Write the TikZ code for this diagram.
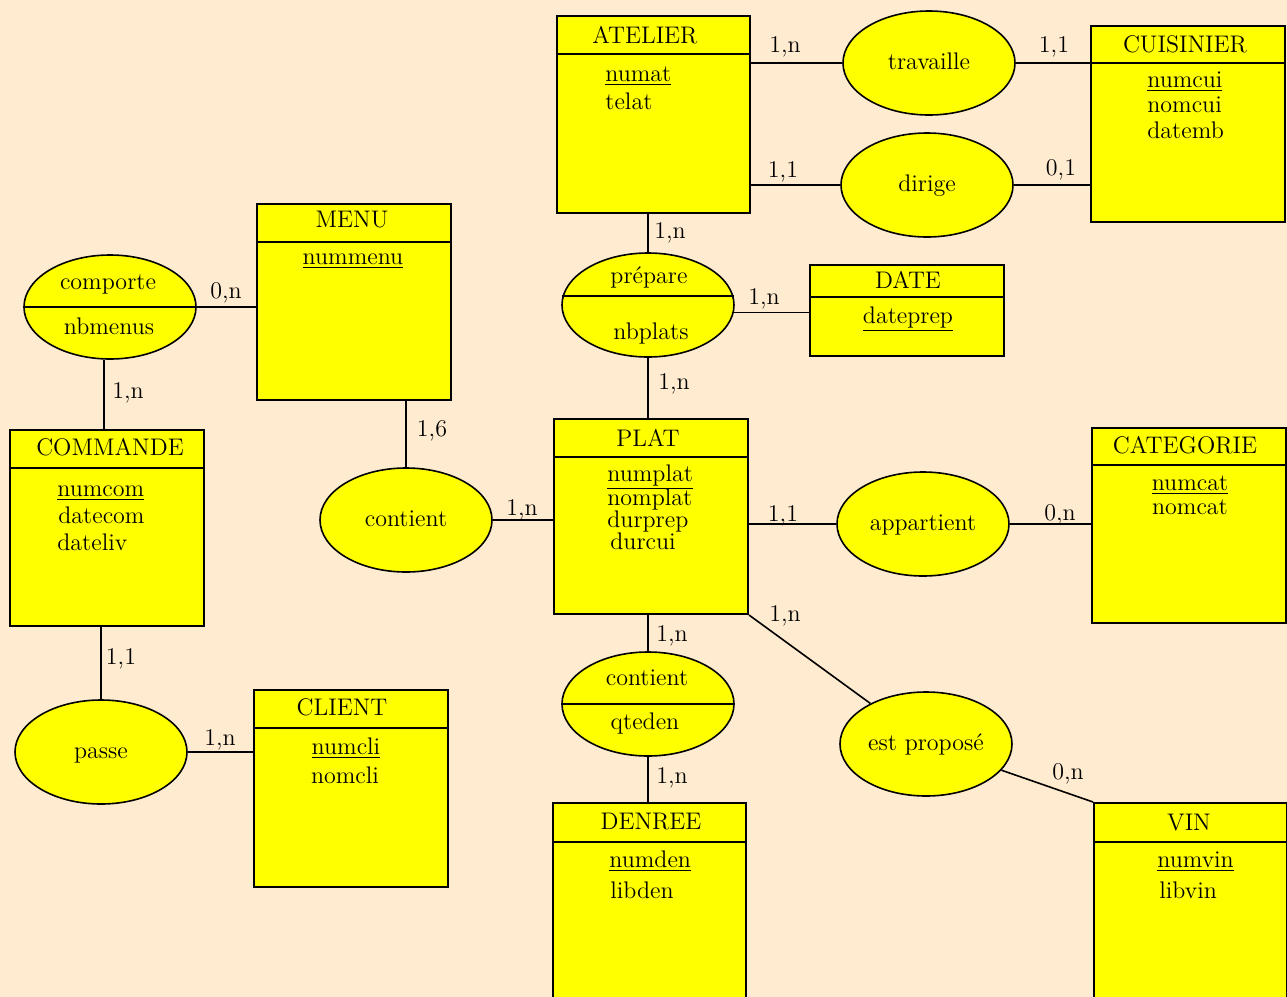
\documentclass[tikz,border=0pt]{standalone}
\usepackage{tikz}
\usepackage{xcolor}
\usetikzlibrary{shapes.geometric}

\definecolor{fond}{RGB}{255,235,208}
\definecolor{jaune}{RGB}{255,255,0}

\begin{document}
\begin{tikzpicture}[x=0.5pt,y=-0.5pt,
  font=\fontsize{12}{14}\selectfont,
  entite/.style={draw, fill=jaune, line width=1pt, anchor=north west, inner sep=0pt, minimum width=97pt, minimum height=98pt},
  entete/.style={line width=1pt},
  relation/.style={ellipse, draw, fill=jaune, line width=0.8pt, inner sep=0pt, minimum width=86pt, minimum height=52pt, text height=8.2pt, text depth=2.2pt},
  texte/.style={inner sep=0pt, text height=8.2pt, text depth=2.2pt},
  attr/.style={texte, anchor=west},
  lien/.style={line width=0.8pt}]

\useasboundingbox (0,0) rectangle (1287,997);
\fill[fond] (0,0) rectangle (1287,997);

% entites
\node[entite, minimum width=96.5pt, minimum height=98.5pt] (atelier) at (556,15) {};
\draw[entete] ([yshift=-19.5pt]atelier.north west) -- ([yshift=-19.5pt]atelier.north east);
\node[texte] (t-atelier) at (645,37) {ATELIER};
\node[attr] (numat) at (605,75) {\underline{numat}};
\node[attr] (telat) at (605,103) {telat};

\node[entite] (cuisinier) at (1090,25) {};
\draw[entete] ([yshift=-19pt]cuisinier.north west) -- ([yshift=-19pt]cuisinier.north east);
\node[texte] (t-cuisinier) at (1185,46) {CUISINIER};
\node[attr] (numcui) at (1147,81) {\underline{numcui}};
\node[attr] (nomcui) at (1147,106) {nomcui};
\node[attr] (datemb) at (1147,132) {datemb};

\node[entite] (menu) at (256,203) {};
\draw[entete] ([yshift=-19.5pt]menu.north west) -- ([yshift=-19.5pt]menu.north east);
\node[texte] (t-menu) at (352,221) {MENU};
\node[texte] (nummenu) at (353,258) {\underline{nummenu}};

\node[entite, minimum height=45.5pt] (date) at (809,264) {};
\draw[entete] ([yshift=-16.5pt]date.north west) -- ([yshift=-16.5pt]date.north east);
\node[texte] (t-date) at (908,282) {DATE};
\node[texte] (dateprep) at (908,317) {\underline{dateprep}};

\node[entite] (commande) at (9,429) {};
\draw[entete] ([yshift=-19.5pt]commande.north west) -- ([yshift=-19.5pt]commande.north east);
\node[texte] (t-commande) at (110,449) {COMMANDE};
\node[attr] (numcom) at (57,490) {\underline{numcom}};
\node[attr] (datecom) at (58,517) {datecom};
\node[attr] (dateliv) at (57,544) {dateliv};

\node[entite, minimum height=97.5pt] (plat) at (553,418) {};
\draw[entete] ([yshift=-19.5pt]plat.north west) -- ([yshift=-19.5pt]plat.north east);
\node[texte] (t-plat) at (648,440) {PLAT};
\node[attr] (numplat) at (607,475) {\underline{numplat}};
\node[attr] (nomplat) at (607,499) {nomplat};
\node[attr] (durprep) at (607,521) {durprep};
\node[attr] (durcui) at (610,543) {durcui};

\node[entite, minimum height=97.5pt] (categorie) at (1091,427) {};
\draw[entete] ([yshift=-19pt]categorie.north west) -- ([yshift=-19pt]categorie.north east);
\node[texte] (t-categorie) at (1185,447) {CATEGORIE};
\node[texte] (numcat) at (1190,484) {\underline{numcat}};
\node[texte] (nomcat) at (1190,508) {nomcat};

\node[entite, minimum height=98.5pt] (client) at (253,689) {};
\draw[entete] ([yshift=-19.5pt]client.north west) -- ([yshift=-19.5pt]client.north east);
\node[texte] (t-client) at (342,709) {CLIENT};
\node[texte] (numcli) at (346,748) {\underline{numcli}};
\node[texte] (nomcli) at (345,777) {nomcli};

\node[entite, minimum width=96.5pt, minimum height=110pt] (denree) at (552,802) {};
\draw[entete] ([yshift=-20pt]denree.north west) -- ([yshift=-20pt]denree.north east);
\node[texte] (t-denree) at (651,823) {DENREE};
\node[attr] (numden) at (609,861) {\underline{numden}};
\node[attr] (libden) at (610,892) {libden};

\node[entite, minimum width=96.5pt, minimum height=110pt] (vin) at (1093,802) {};
\draw[entete] ([yshift=-20pt]vin.north west) -- ([yshift=-20pt]vin.north east);
\node[texte] (t-vin) at (1189,824) {VIN};
\node[attr] (numvin) at (1157,861) {\underline{numvin}};
\node[attr] (libvin) at (1159,892) {libvin};

% associations
\node[relation] (travaille) at (929,63) {travaille};
\node[relation] (dirige) at (927,185) {dirige};
\node[relation] (comporte) at (110,307) {};
\draw[lien] (comporte.west) -- (comporte.east);
\node[texte] (t-comporte) at (108,283) {comporte};
\node[texte] (nbmenus) at (109,328) {nbmenus};
\node[relation] (prepare) at (648,305) {};
\draw[lien] (prepare.174) -- (prepare.6);
\node[texte] (t-prepare) at (649,277) {prépare};
\node[texte] (nbplats) at (651,333) {nbplats};
\node[relation] (contient) at (406,520) {contient};
\node[relation] (appartient) at (923,524) {appartient};
\node[relation] (contient2) at (648,704) {};
\draw[lien] (contient2.west) -- (contient2.east);
\node[texte] (t-contient2) at (647,679) {contient};
\node[texte] (qteden) at (645,723) {qteden};
\node[relation] (propose) at (926,744) {est proposé};
\node[relation] (passe) at (101,752) {passe};

% liens et cardinalites
\draw[lien] (travaille.west) -- (travaille.west -| atelier.east);
\node[texte] (c-trav-at) at (785,46) {1,n};
\draw[lien] (travaille.east) -- (travaille.east -| cuisinier.west);
\node[texte] (c-trav-cu) at (1054,46) {1,1};
\draw[lien] (dirige.west) -- (dirige.west -| atelier.east);
\node[texte] (c-dir-at) at (783,171) {1,1};
\draw[lien] (dirige.east) -- (dirige.east -| cuisinier.west);
\node[texte] (c-dir-cu) at (1061,169) {0,1};
\draw[lien] (prepare.north) -- (prepare.north |- atelier.south);
\node[texte] (c-prep-at) at (670,232) {1,n};
\draw[lien] (prepare.-5) -- (prepare.-5 -| date.west);
\node[texte] (c-prep-da) at (764,298) {1,n};
\draw[lien] (prepare.south) -- (prepare.south |- plat.north);
\node[texte] (c-prep-pl) at (674,383) {1,n};
\draw[lien] (comporte.east) -- (comporte.east -| menu.west);
\node[texte] (c-comp-me) at (226,292) {0,n};
\draw[lien] ([xshift=-3pt]comporte.south) -- ([xshift=-3pt]comporte.south |- commande.north);
\node[texte] (c-comp-co) at (128,392) {1,n};
\draw[lien] (contient.north) -- (contient.north |- menu.south);
\node[texte] (c-cont-me) at (432,430) {1,6};
\draw[lien] (contient.east) -- (contient.east -| plat.west);
\node[texte] (c-cont-pl) at (522,509) {1,n};
\draw[lien] (appartient.west) -- (appartient.west -| plat.east);
\node[texte] (c-app-pl) at (783,515) {1,1};
\draw[lien] (appartient.east) -- (appartient.east -| categorie.west);
\node[texte] (c-app-ca) at (1060,514) {0,n};
\draw[lien] (contient2.north) -- (contient2.north |- plat.south);
\node[texte] (c-cont2-pl) at (672,635) {1,n};
\draw[lien] (contient2.south) -- (contient2.south |- denree.north);
\node[texte] (c-cont2-de) at (672,777) {1,n};
\draw[lien] (plat.south east) -- (propose);
\node[texte] (c-prop-pl) at (785,615) {1,n};
\draw[lien] (propose) -- (vin.north west);
\node[texte] (c-prop-vi) at (1068,773) {0,n};
\draw[lien] (passe.north) -- (passe.north |- commande.south);
\node[texte] (c-pas-co) at (121,658) {1,1};
\draw[lien] (passe.east) -- (passe.east -| client.west);
\node[texte] (c-pas-cl) at (220,739) {1,n};

\end{tikzpicture}
\end{document}
